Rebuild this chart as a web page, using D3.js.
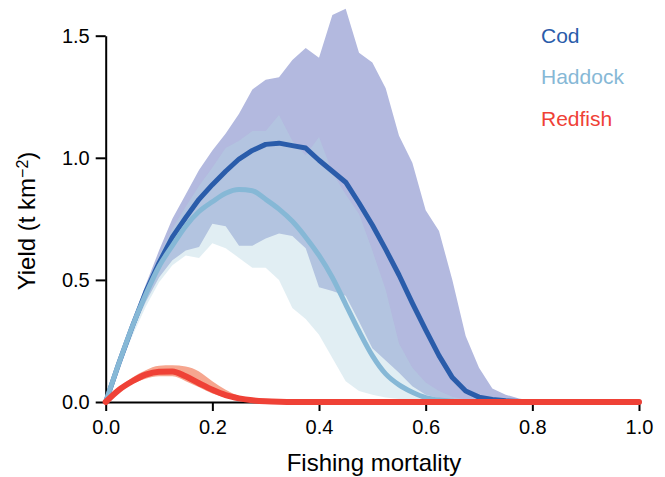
<!DOCTYPE html>
<html>
<head>
<meta charset="utf-8">
<script src="https://cdn.jsdelivr.net/npm/d3@7"></script>
<style>
  html, body { margin: 0; padding: 0; background: #fff; }
  svg { display: block; font-family: "Liberation Sans", Arial, Helvetica, sans-serif; }
</style>
</head>
<body>
<svg id="chart" width="665" height="477"></svg>
<script>
// Fishing mortality grid
const F = [0, 0.025, 0.05, 0.075, 0.1, 0.125, 0.15, 0.175, 0.2, 0.225, 0.25, 0.275, 0.3, 0.325, 0.35, 0.375, 0.4, 0.425, 0.45, 0.475, 0.5, 0.525, 0.55, 0.575, 0.6, 0.625, 0.65, 0.675, 0.7, 0.725, 0.75, 0.775, 0.8, 0.825, 0.85, 0.875, 0.9, 0.925, 0.95, 0.975, 1.0];

const codMean  = [0, 0.16, 0.31, 0.45, 0.57, 0.675, 0.755, 0.83, 0.89, 0.945, 0.995, 1.03, 1.055, 1.06, 1.05, 1.04, 0.99, 0.945, 0.90, 0.815, 0.725, 0.625, 0.52, 0.405, 0.295, 0.19, 0.10, 0.045, 0.02, 0.01, 0.005, 0.002, 0, 0, 0, 0, 0, 0, 0, 0, 0];
const codUpper = [0, 0.17, 0.33, 0.48, 0.62, 0.75, 0.85, 0.95, 1.03, 1.10, 1.18, 1.28, 1.32, 1.33, 1.40, 1.45, 1.41, 1.585, 1.61, 1.43, 1.39, 1.285, 1.09, 0.98, 0.785, 0.70, 0.50, 0.27, 0.14, 0.055, 0.03, 0.014, 0.005, 0, 0, 0, 0, 0, 0, 0, 0];
const codLower = [0, 0.15, 0.29, 0.41, 0.51, 0.58, 0.62, 0.635, 0.73, 0.72, 0.64, 0.64, 0.67, 0.69, 0.68, 0.63, 0.47, 0.455, 0.435, 0.33, 0.22, 0.17, 0.12, 0.065, 0.03, 0.015, 0.006, 0.002, 0, 0, 0, 0, 0, 0, 0, 0, 0, 0, 0, 0, 0];

const hadMean  = [0, 0.16, 0.31, 0.44, 0.555, 0.64, 0.72, 0.78, 0.82, 0.855, 0.87, 0.865, 0.83, 0.79, 0.74, 0.675, 0.60, 0.51, 0.40, 0.29, 0.19, 0.115, 0.07, 0.04, 0.018, 0.008, 0.003, 0, 0, 0, 0, 0, 0, 0, 0, 0, 0, 0, 0, 0, 0];
const hadUpper = [0, 0.165, 0.32, 0.47, 0.60, 0.71, 0.80, 0.885, 0.96, 1.04, 1.07, 1.11, 1.11, 1.175, 1.07, 1.01, 1.085, 0.94, 0.85, 0.77, 0.62, 0.46, 0.24, 0.14, 0.08, 0.045, 0.022, 0.01, 0.004, 0, 0, 0, 0, 0, 0, 0, 0, 0, 0, 0, 0];
const hadLower = [0, 0.14, 0.27, 0.39, 0.49, 0.56, 0.60, 0.59, 0.65, 0.63, 0.59, 0.55, 0.55, 0.50, 0.385, 0.34, 0.275, 0.18, 0.085, 0.045, 0.03, 0.018, 0.012, 0.006, 0.002, 0, 0, 0, 0, 0, 0, 0, 0, 0, 0, 0, 0, 0, 0, 0, 0];

const redMean  = [0, 0.05, 0.085, 0.112, 0.124, 0.125, 0.105, 0.077, 0.05, 0.028, 0.015, 0.007, 0.003, 0.001, 0, 0, 0, 0, 0, 0, 0, 0, 0, 0, 0, 0, 0, 0, 0, 0, 0, 0, 0, 0, 0, 0, 0, 0, 0, 0, 0];
const redUpper = [0, 0.06, 0.10, 0.13, 0.148, 0.15, 0.145, 0.125, 0.085, 0.05, 0.025, 0.012, 0.005, 0.002, 0, 0, 0, 0, 0, 0, 0, 0, 0, 0, 0, 0, 0, 0, 0, 0, 0, 0, 0, 0, 0, 0, 0, 0, 0, 0, 0];
const redLower = [0, 0.045, 0.075, 0.095, 0.105, 0.105, 0.085, 0.06, 0.035, 0.018, 0.008, 0.003, 0, 0, 0, 0, 0, 0, 0, 0, 0, 0, 0, 0, 0, 0, 0, 0, 0, 0, 0, 0, 0, 0, 0, 0, 0, 0, 0, 0, 0];

const xTicks = [0, 0.2, 0.4, 0.6, 0.8, 1.0];
const yTicks = [0, 0.5, 1.0, 1.5];
const legendNames = ["Cod", "Haddock", "Redfish"];

const svg = d3.select("#chart");
const x = d3.scaleLinear().domain([0, 1]).range([105.7, 639]);
const y = d3.scaleLinear().domain([0, 1.5]).range([402, 35.7]);

const area = (lo, hi, curve) => d3.area()
  .curve(curve || d3.curveLinear)
  .x((d, i) => x(F[i]))
  .y0((d, i) => y(lo[i]))
  .y1((d, i) => y(hi[i]))(F);
const line = (vals, curve) => d3.line()
  .curve(curve || d3.curveLinear)
  .x((d, i) => x(F[i]))
  .y((d, i) => y(vals[i]))(F);

// Bands
svg.append("path").attr("d", area(codLower, codUpper)).attr("fill", "#b3b9df");
svg.append("path").attr("d", area(hadLower, hadUpper)).attr("fill", "#b3d5e0").attr("fill-opacity", 0.4);
svg.append("path").attr("d", area(redLower, redUpper, d3.curveMonotoneX)).attr("fill", "#f6a68f");

// Axes
const xAxis = svg.append("g").attr("transform", `translate(0,${y(0)})`)
  .call(d3.axisBottom(x).tickValues(xTicks).tickFormat(d3.format(".1f")).tickSize(9).tickPadding(9).tickSizeOuter(0));
const yAxis = svg.append("g").attr("transform", `translate(${x(0)},0)`)
  .call(d3.axisLeft(y).tickValues(yTicks).tickFormat(d3.format(".1f")).tickSize(10).tickPadding(6).tickSizeOuter(0));
[xAxis, yAxis].forEach(g => {
  g.select(".domain").attr("stroke", "#000").attr("stroke-width", 2);
  g.selectAll(".tick line").attr("stroke", "#000").attr("stroke-width", 2);
  g.selectAll(".tick text").attr("fill", "#000").style("font-size", "20px")
    .style("font-family", '"Liberation Sans", Arial, sans-serif');
});

// Lines
svg.append("path").attr("d", line(codMean)).attr("fill", "none").attr("stroke", "#2a5caa")
  .attr("stroke-width", 5).attr("stroke-linejoin", "round").attr("stroke-linecap", "round");
svg.append("path").attr("d", line(hadMean, d3.curveMonotoneX)).attr("fill", "none").attr("stroke", "#86b8d6")
  .attr("stroke-width", 5).attr("stroke-linejoin", "round").attr("stroke-linecap", "round");
svg.append("path").attr("d", line(redMean, d3.curveMonotoneX)).attr("fill", "none").attr("stroke", "#ef4136")
  .attr("stroke-width", 6).attr("stroke-linejoin", "round").attr("stroke-linecap", "round");

// Axis titles
svg.append("text").attr("x", 374).attr("y", 471).attr("text-anchor", "middle")
  .style("font-size", "24px").attr("fill", "#000").text("Fishing mortality");
const yt = svg.append("text").attr("transform", "translate(35,221) rotate(-90)")
  .attr("text-anchor", "middle").style("font-size", "24px").attr("fill", "#000");
yt.append("tspan").text("Yield (t km");
yt.append("tspan").attr("dy", "-0.45em").style("font-size", "16px").text("−2");
yt.append("tspan").attr("dy", "0.3em").text(")");

// Legend
const legendColors = ["#2a5caa", "#86b8d6", "#ef4136"];
const legendY = [42.7, 84, 126];
legendNames.forEach((n, i) => {
  svg.append("text").attr("x", 541).attr("y", legendY[i]).style("font-size", "21px")
    .attr("fill", legendColors[i]).text(n);
});
</script>
</body>
</html>
